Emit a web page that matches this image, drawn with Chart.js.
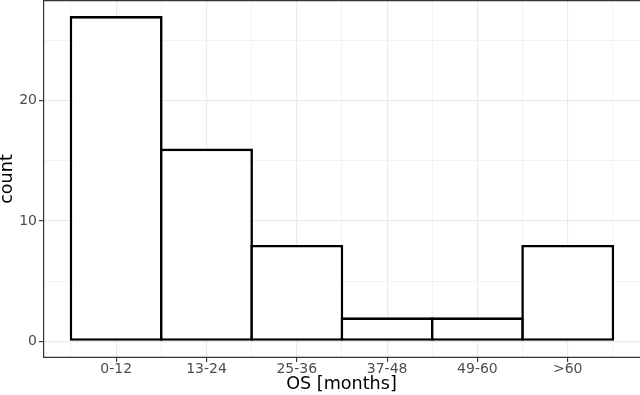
<!DOCTYPE html>
<html>
<head>
<meta charset="utf-8">
<script src="https://cdn.jsdelivr.net/npm/chart.js@4.4.1/dist/chart.umd.min.js"></script>
<style>
  html, body { margin: 0; padding: 0; background: #fff; }
  #wrap { width: 640px; height: 395px; }
</style>
</head>
<body>
<div id="wrap"><canvas id="hist"></canvas></div>
<script>
"use strict";

/* data */
var categories = ['0-12', '13-24', '25-36', '37-48', '49-60', '>60'];
var counts = [27, 16, 8, 2, 2, 8];
var yMajor = [0, 10, 20];
var yMinor = [5, 15, 25];
var xMinor = [0.5, 1.5, 2.5, 3.5, 4.5, 5.5, 6.5];

var gridCol = '#EBEBEB';
var tickTextCol = '#4D4D4D';
var font = 'DejaVu Sans';

/* panel border (left, top, bottom; right edge falls outside the picture) */
var panelBorder = {
    id: 'panelBorder',
    afterDraw: function (chart) {
        var a = chart.chartArea;
        var ctx = chart.ctx;
        ctx.save();
        ctx.strokeStyle = '#333333';
        ctx.lineWidth = 1.2;
        ctx.beginPath();
        ctx.moveTo(chart.width, a.top + 0.6);
        ctx.lineTo(a.left + 0.6, a.top + 0.6);
        ctx.lineTo(a.left + 0.6, a.bottom - 0.6);
        ctx.lineTo(chart.width, a.bottom - 0.6);
        ctx.stroke();
        ctx.restore();
    }
};

var isMajorY = function (v) { return yMajor.indexOf(v) !== -1; };

var ctx = document.getElementById('hist').getContext('2d');
var histChart = new Chart(ctx, {
    type: 'bar',
    data: {
        datasets: [{
            label: 'count',
            data: counts.map(function (c, i) { return { x: i + 1, y: c }; }),
            backgroundColor: '#FFFFFF',
            borderColor: '#000000',
            borderWidth: 2.6,
            borderSkipped: false,
            inflateAmount: 0,
            barPercentage: 1.029,
            categoryPercentage: 1,
        }]
    },
    options: {
        animation: false,
        responsive: true,
        maintainAspectRatio: false,
        layout: { padding: 0 },
        plugins: {
            legend: { display: false },
            tooltip: { enabled: false },
        },
        scales: {
            x: {
                type: 'linear',
                offset: false,
                min: 0.19,
                max: 6.8,
                afterBuildTicks: function (scale) {
                    scale.ticks = categories.map(function (c, i) { return { value: i + 1 }; });
                },
                afterFit: function (scale) {
                    scale.height = 37;
                    scale.paddingLeft = 0;
                    scale.paddingRight = 0;
                },
                ticks: {
                    autoSkip: false,
                    maxRotation: 0,
                    padding: -1,
                    color: tickTextCol,
                    font: { family: font, size: 14 },
                    callback: function (v) { return categories[v - 1]; }
                },
                grid: {
                    offset: false,
                    color: gridCol,
                    lineWidth: 1.2,
                    drawTicks: true,
                    tickLength: 4,
                    tickColor: '#333333',
                    tickWidth: 1.1,
                },
                border: { display: false },
                title: {
                    display: true,
                    text: 'OS [months]',
                    color: '#000000',
                    font: { family: font, size: 17.6 },
                    padding: { top: 0, bottom: 0 }
                }
            },
            /* minor vertical grid at the bin edges */
            x2: {
                type: 'linear',
                axis: 'x',
                position: 'bottom',
                offset: false,
                min: 0.19,
                max: 6.8,
                afterBuildTicks: function (scale) {
                    scale.ticks = xMinor.map(function (v) { return { value: v }; });
                },
                afterFit: function (scale) {
                    scale.height = 0;
                    scale.paddingLeft = 0;
                    scale.paddingRight = 0;
                },
                ticks: { display: false },
                grid: { offset: false, color: gridCol, lineWidth: 0.6, drawTicks: false },
                border: { display: false },
            },
            y: {
                type: 'linear',
                min: -1.375,
                max: 28.33,
                afterBuildTicks: function (scale) {
                    scale.ticks = yMajor.concat(yMinor).sort(function (a, b) { return a - b; })
                        .map(function (v) { return { value: v }; });
                },
                afterFit: function (scale) {
                    scale.width = 43;
                    scale.paddingTop = 0;
                    scale.paddingBottom = 0;
                },
                ticks: {
                    autoSkip: false,
                    padding: 2,
                    color: tickTextCol,
                    font: { family: font, size: 14 },
                    callback: function (v) { return isMajorY(v) ? String(v) : ''; }
                },
                grid: {
                    color: gridCol,
                    lineWidth: function (c) { return isMajorY(c.tick.value) ? 1.2 : 0.6; },
                    drawTicks: true,
                    tickLength: 4,
                    tickWidth: 1.1,
                    tickColor: function (c) { return isMajorY(c.tick.value) ? '#333333' : 'rgba(0,0,0,0)'; },
                },
                border: { display: false },
                title: {
                    display: true,
                    text: 'count',
                    color: '#000000',
                    font: { family: font, size: 17.6, lineHeight: 0.8 },
                    padding: 0
                }
            }
        }
    },
    plugins: [panelBorder]
});
</script>
</body>
</html>
